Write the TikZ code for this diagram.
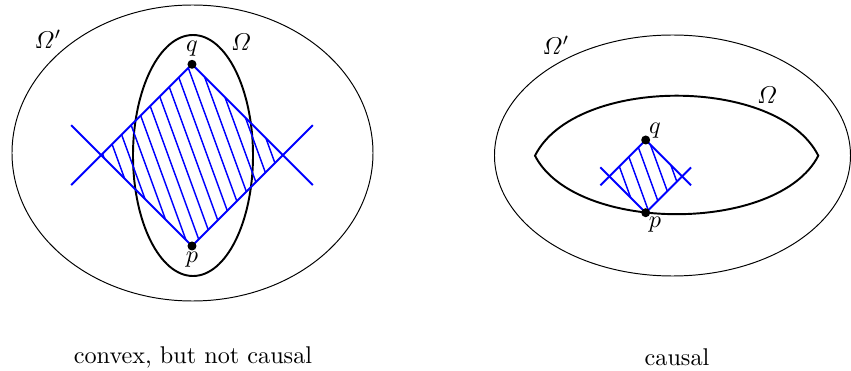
\documentclass[tikz,border=0pt]{standalone}
\usepackage{amsmath}
\usetikzlibrary{calc}

\begin{document}
\begin{tikzpicture}[
    x=0.413pt, y=0.413pt,
    region/.style={draw, thin},
    omegaline/.style={draw, thick},
    cone/.style={draw=blue, thick},
    hatch/.style={draw=blue, semithick},
    lbl/.style={inner sep=0pt}
]
\useasboundingbox (0,0) rectangle (851,371);

% convex, but not causal
\draw[region] (192.5,218) ellipse[x radius=180.5, y radius=148];
\draw[omegaline] (193,215.5) ellipse[x radius=60, y radius=120.5];
\coordinate (q1) at (192,306.7);
\coordinate (p1) at (192,125);
\coordinate (l1) at (101.15,215.85);
\coordinate (r1) at (282.85,215.85);
\begin{scope}
  \clip (q1) -- (l1) -- (p1) -- (r1) -- cycle;
  \foreach \i in {-11,...,8}
    \draw[hatch] ($(q1)+(13*\i-5,0)+(-72.8,200)$) -- ++(145.6,-400);
\end{scope}
\draw[cone] (p1) -- ($(l1)+(-30,30)$);
\draw[cone] (q1) -- ($(l1)+(-30,-30)$);
\draw[cone] (p1) -- ($(r1)+(30,30)$);
\draw[cone] (q1) -- ($(r1)+(30,-30)$);
\fill (q1) circle[radius=4.5];
\fill (p1) circle[radius=4.5];
\node[lbl] (lq1) at (192,322) {$q$};
\node[lbl] (lp1) at (192,111) {$p$};
\node[lbl] (om1) at (241,329) {$\varOmega$};
\node[lbl] (omp1) at (48,332) {$\varOmega'$};
\node (cap1) at (193,14) {convex, but not causal};

% causal
\draw[region] (672.5,215.5) ellipse[x radius=178, y radius=120.5];
\coordinate (a2) at (535,215.3);
\coordinate (b2) at (818.3,215.3);
\draw[omegaline] (a2) .. controls +(40,80) and +(-40,80) .. (b2)
  .. controls +(-40,-78) and +(40,-78) .. (a2) -- cycle;
\coordinate (q2) at (645.7,231);
\coordinate (p2) at (645.7,158.3);
\coordinate (l2) at (609.35,194.65);
\coordinate (r2) at (682.05,194.65);
\begin{scope}
  \clip (q2) -- (l2) -- (p2) -- (r2) -- cycle;
  \foreach \i in {-6,...,4}
    \draw[hatch] ($(q2)+(13*\i+3,0)+(-36.4,100)$) -- ++(72.8,-200);
\end{scope}
\draw[cone] (p2) -- ($(l2)+(-9,9)$);
\draw[cone] (q2) -- ($(l2)+(-9,-9)$);
\draw[cone] (p2) -- ($(r2)+(9,9)$);
\draw[cone] (q2) -- ($(r2)+(9,-9)$);
\fill (q2) circle[radius=4.5];
\fill (p2) circle[radius=4.5];
\node[lbl] (lq2) at (655,240) {$q$};
\node[lbl] (lp2) at (655,146) {$p$};
\node[lbl] (om2) at (767,276) {$\varOmega$};
\node[lbl] (omp2) at (556,326) {$\varOmega'$};
\node (cap2) at (677,14) {causal};
\end{tikzpicture}
\end{document}
